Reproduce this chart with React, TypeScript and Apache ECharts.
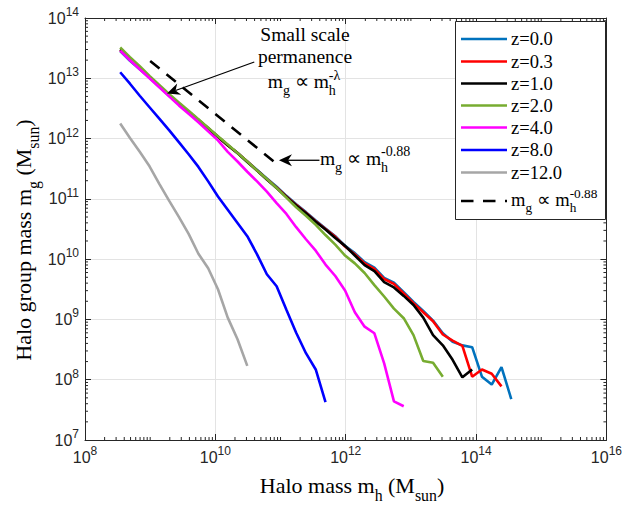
import React, { useEffect, useRef } from "react";
import * as echarts from "echarts";

// ---------- data (log10 values) ----------
const logMassGrid = [
  8.54, 8.69, 8.84, 8.99, 9.14, 9.29, 9.44, 9.59, 9.74, 9.89, 10.04, 10.19, 10.34, 10.49,
  10.64, 10.79, 10.94, 11.09, 11.24, 11.39, 11.54, 11.69, 11.84, 11.99, 12.14, 12.29, 12.44,
  12.59, 12.74, 12.89, 13.04, 13.19, 13.34, 13.49, 13.64, 13.79, 13.94, 14.09, 14.24, 14.39,
  14.54,
];

const seriesNames = ["z=0.0", "z=0.3", "z=1.0", "z=2.0", "z=4.0", "z=8.0", "z=12.0"];
const seriesColors = ["#0072BD", "#FF0000", "#000000", "#77AC30", "#FF00FF", "#0000FF", "#A6A6A6"];

const logMgZ00 = [
  13.45, 13.29, 13.15, 13.01, 12.86, 12.71, 12.57, 12.44, 12.31, 12.17, 12.03, 11.89, 11.76,
  11.62, 11.48, 11.34, 11.2, 11.05, 10.91, 10.78, 10.64, 10.51, 10.38, 10.22, 10.1, 9.95, 9.86,
  9.69, 9.61, 9.45, 9.29, 9.14, 8.98, 8.77, 8.63, 8.57, 8.54, 8.05, 7.92, 8.21, 7.68,
];
const logMgZ03 = [
  13.47, 13.32, 13.17, 13.02, 12.87, 12.72, 12.58, 12.44, 12.31, 12.17, 12.03, 11.89, 11.76,
  11.62, 11.47, 11.33, 11.19, 11.04, 10.9, 10.77, 10.63, 10.5, 10.37, 10.21, 10.08, 9.93, 9.84,
  9.67, 9.59, 9.43, 9.27, 9.12, 8.97, 8.75, 8.65, 8.56, 8.05, 8.17, 8.1, 7.89,
];
const logMgZ10 = [
  13.48, 13.33, 13.18, 13.02, 12.87, 12.72, 12.58, 12.44, 12.31, 12.17, 12.03, 11.89, 11.76,
  11.61, 11.47, 11.32, 11.18, 11.03, 10.89, 10.76, 10.62, 10.49, 10.35, 10.22, 10.06, 9.9, 9.8,
  9.62, 9.53, 9.39, 9.24, 9.03, 8.74, 8.57, 8.33, 8.04, 8.17,
];
const logMgZ20 = [
  13.51, 13.35, 13.2, 13.04, 12.89, 12.74, 12.6, 12.46, 12.32, 12.18, 12.04, 11.9, 11.76,
  11.62, 11.47, 11.33, 11.18, 11.02, 10.86, 10.72, 10.57, 10.4, 10.24, 10.06, 9.93, 9.77, 9.57,
  9.38, 9.18, 9.02, 8.74, 8.31, 8.28, 8.05,
];
const logMgZ40 = [
  13.46, 13.3, 13.15, 13.0, 12.85, 12.7, 12.55, 12.41, 12.27, 12.12, 11.97, 11.78, 11.62,
  11.45, 11.29, 11.12, 10.93, 10.75, 10.53, 10.33, 10.14, 9.91, 9.72, 9.48, 9.12, 8.88, 8.77,
  8.27, 7.64, 7.56,
];
const logMgZ80 = [
  13.1, 12.91, 12.71, 12.52, 12.33, 12.14, 11.94, 11.74, 11.53, 11.29, 11.04, 10.82, 10.6,
  10.38, 10.08, 9.75, 9.55, 9.16, 8.78, 8.44, 8.17, 7.63,
];
const logMgZ120 = [
  12.25, 12.01, 11.78, 11.54, 11.25, 10.97, 10.7, 10.42, 10.09, 9.85, 9.5, 9.03, 8.67, 8.23,
];

// reference power law m_g ∝ m_h^-0.88 (end points)
const refLogMh = [9.0, 10.99];
const refLogMg = [13.288, 11.537];

// axes (decades)
const xMajorExponents = [8, 10, 12, 14, 16];
const yMajorExponents = [7, 8, 9, 10, 11, 12, 13, 14];
const minorMultiples = [1, 2, 3, 4, 5, 6, 7, 8, 9];

// annotation anchors (log10 m_h, log10 m_g)
const arrow1Tip = [9.258, 12.746];
const arrow1Tail = [10.597, 13.27];
const arrow2Tip = [10.976, 11.64];
const arrow2Tail = [11.597, 11.64];

// ---------- styling helpers ----------
const SERIF = "'Liberation Serif', 'Times New Roman', Times, serif";
const SANS = "'Liberation Sans', Arial, Helvetica, sans-serif";
const INK = "#262626";
const SUB = 0.34;
const SUP = -0.45;
const SMALL = 0.72;

let measureCtx: CanvasRenderingContext2D | null = null;
function textWidth(t: string, size: number, family: string) {
  if (!measureCtx) measureCtx = document.createElement("canvas").getContext("2d");
  measureCtx!.font = `${size}px ${family}`;
  return measureCtx!.measureText(t).width;
}

type Seg = { t: string; s: number; dy?: number; stack?: boolean };

function mathText(
  segs: Seg[],
  x: number,
  baseline: number,
  align: "left" | "center",
  family = SERIF,
  color = "#000"
) {
  const placed: { seg: Seg; sx: number }[] = [];
  let cursor = 0;
  let prevX = 0;
  let prevW = 0;
  let prevStack = false;
  for (const seg of segs) {
    const w = textWidth(seg.t, seg.s, family);
    let sx: number;
    if (prevStack) {
      sx = prevX;
      cursor = prevX + Math.max(prevW, w);
    } else {
      sx = cursor;
      cursor += w;
    }
    placed.push({ seg, sx });
    prevX = sx;
    prevW = w;
    prevStack = !!seg.stack;
  }
  const off = align === "center" ? -cursor / 2 : 0;
  return placed.map(({ seg, sx }) => ({
    type: "text",
    x: x + off + sx,
    y: baseline + (seg.dy || 0) - 0.34 * seg.s,
    silent: true,
    z: 120,
    style: {
      text: seg.t,
      font: `${seg.s}px ${family}`,
      fill: color,
      textAlign: "left",
      align: "left",
      textVerticalAlign: "middle",
      verticalAlign: "middle",
    },
  }));
}

function propTo(base: number, sup: string): Seg[] {
  const s = SMALL * base;
  return [
    { t: "m", s: base },
    { t: "g", s, dy: SUB * base },
    { t: " \u221D m", s: base },
    { t: "h", s, dy: SUB * base, stack: true },
    { t: sup, s, dy: SUP * base },
  ];
}

function arrow(tail: number[], tip: number[]) {
  const dx = tip[0] - tail[0];
  const dy = tip[1] - tail[1];
  const len = Math.hypot(dx, dy);
  const ux = dx / len;
  const uy = dy / len;
  const nx = -uy;
  const ny = ux;
  const L = 13;
  const W = 6;
  const back = [tip[0] - ux * L, tip[1] - uy * L];
  const w1 = [back[0] + nx * W, back[1] + ny * W];
  const w2 = [back[0] - nx * W, back[1] - ny * W];
  const notch = [tip[0] - ux * L * 0.7, tip[1] - uy * L * 0.7];
  return [
    {
      type: "line",
      silent: true,
      z: 120,
      shape: { x1: tail[0], y1: tail[1], x2: notch[0], y2: notch[1] },
      style: { stroke: "#000", lineWidth: 1.3 },
    },
    {
      type: "polygon",
      silent: true,
      z: 120,
      shape: { points: [tip, w1, notch, w2] },
      style: { fill: "#000" },
    },
  ];
}

export default function App() {
  const ref = useRef<HTMLDivElement>(null);

  useEffect(() => {
    const prevMargin = document.body.style.margin;
    document.body.style.margin = "0";
    const chart = echarts.init(ref.current!, null, { renderer: "svg" });

    const curves = [logMgZ00, logMgZ03, logMgZ10, logMgZ20, logMgZ40, logMgZ80, logMgZ120];
    const xMin = xMajorExponents[0];
    const xMax = xMajorExponents[xMajorExponents.length - 1];
    const xInt = xMajorExponents[1] - xMajorExponents[0];
    const yMin = yMajorExponents[0];
    const yMax = yMajorExponents[yMajorExponents.length - 1];
    const yInt = yMajorExponents[1] - yMajorExponents[0];

    const series: any[] = curves.map((ys, i) => ({
      type: "line",
      name: seriesNames[i],
      data: ys.map((y, j) => [logMassGrid[j], y]),
      showSymbol: false,
      symbol: "none",
      silent: true,
      z: 2 + i,
      lineStyle: { color: seriesColors[i], width: 2.6 },
      itemStyle: { color: seriesColors[i] },
    }));

    series.push({
      type: "line",
      name: "ref",
      data: refLogMh.map((x, i) => [x, refLogMg[i]]),
      showSymbol: false,
      symbol: "none",
      silent: true,
      z: 12,
      lineStyle: { color: "#000", width: 2.6, type: [12, 9] },
    });

    series.push({
      type: "custom",
      silent: true,
      z: 20,
      data: [[xMin, yMin]],
      renderItem: (_params: any, api: any) => {
        const children: any[] = [];
        const bl = api.coord([xMin, yMin]);
        const tr = api.coord([xMax, yMax]);
        const tickStyle = { stroke: INK, lineWidth: 1 };
        for (let k = xMin; k < xMax; k++) {
          for (const m of minorMultiples) {
            if (m === 1 && (k - xMin) % xInt === 0) continue;
            const x = api.coord([k + Math.log10(m), yMin])[0];
            children.push({ type: "line", shape: { x1: x, y1: bl[1], x2: x, y2: bl[1] - 3 }, style: tickStyle });
            children.push({ type: "line", shape: { x1: x, y1: tr[1], x2: x, y2: tr[1] + 3 }, style: tickStyle });
          }
        }
        for (let k = yMin; k < yMax; k++) {
          for (const m of minorMultiples) {
            if (m === 1) continue;
            const y = api.coord([xMin, k + Math.log10(m)])[1];
            children.push({ type: "line", shape: { x1: bl[0], y1: y, x2: bl[0] + 3, y2: y }, style: tickStyle });
            children.push({ type: "line", shape: { x1: tr[0], y1: y, x2: tr[0] - 3, y2: y }, style: tickStyle });
          }
        }
        return { type: "group", children };
      },
    });

    const labelRich = {
      b: { fontSize: 16, fontFamily: SANS, color: INK, lineHeight: 16 },
      s: { fontSize: 12, fontFamily: SANS, color: INK, lineHeight: 12, padding: [0, 0, 12, 0] },
    };
    const fmt = (v: number) => `{b|10}{s|${Math.round(v)}}`;
    const axisLineStyle = { color: INK, width: 1 };
    const gridLine = { show: true, lineStyle: { color: "#e3e3e3", width: 1 } };

    const option: any = {
      animation: false,
      grid: { left: 85, top: 18, width: 528, height: 422 },
      xAxis: [
        {
          type: "value",
          min: xMin,
          max: xMax,
          interval: xInt,
          axisLine: { show: true, onZero: false, lineStyle: axisLineStyle },
          axisTick: { show: true, inside: true, length: 6, lineStyle: axisLineStyle },
          axisLabel: { show: true, margin: 9, formatter: fmt, rich: labelRich, fontFamily: SANS },
          splitLine: gridLine,
        },
        {
          type: "value",
          position: "top",
          min: xMin,
          max: xMax,
          interval: xInt,
          axisLine: { show: true, onZero: false, lineStyle: axisLineStyle },
          axisTick: { show: true, inside: true, length: 6, lineStyle: axisLineStyle },
          axisLabel: { show: false },
          splitLine: { show: false },
        },
      ],
      yAxis: [
        {
          type: "value",
          min: yMin,
          max: yMax,
          interval: yInt,
          axisLine: { show: true, onZero: false, lineStyle: axisLineStyle },
          axisTick: { show: true, inside: true, length: 6, lineStyle: axisLineStyle },
          axisLabel: { show: true, margin: 6, formatter: fmt, rich: labelRich, fontFamily: SANS },
          splitLine: gridLine,
        },
        {
          type: "value",
          position: "right",
          min: yMin,
          max: yMax,
          interval: yInt,
          axisLine: { show: true, onZero: false, lineStyle: axisLineStyle },
          axisTick: { show: true, inside: true, length: 6, lineStyle: axisLineStyle },
          axisLabel: { show: false },
          splitLine: { show: false },
        },
      ],
      series,
    };
    chart.setOption(option);

    const P = (p: number[]) => chart.convertToPixel({ gridIndex: 0 }, p) as number[];
    const els: any[] = [];

    // axis names
    const nameSize = 22;
    els.push(
      ...mathText(
        [
          { t: "Halo mass m", s: nameSize },
          { t: "h", s: SMALL * nameSize, dy: SUB * nameSize },
          { t: " (M", s: nameSize },
          { t: "sun", s: SMALL * nameSize, dy: SUB * nameSize },
          { t: ")", s: nameSize },
        ],
        352,
        493,
        "center"
      )
    );
    els.push({
      type: "group",
      x: 0,
      y: 240,
      rotation: Math.PI / 2,
      children: mathText(
        [
          { t: "Halo group mass m", s: nameSize },
          { t: "g", s: SMALL * nameSize, dy: SUB * nameSize },
          { t: " (M", s: nameSize },
          { t: "sun", s: SMALL * nameSize, dy: SUB * nameSize },
          { t: ")", s: nameSize },
        ],
        0,
        31,
        "center"
      ),
    });

    // annotations
    const aSize = 19.5;
    els.push(...mathText([{ t: "Small scale", s: aSize }], 305, 40.7, "center"));
    els.push(...mathText([{ t: "permanence", s: aSize }], 305, 62.7, "center"));
    els.push(...mathText(propTo(aSize, "-\u03BB"), 304, 88.3, "center"));
    els.push(...arrow(P(arrow1Tail), P(arrow1Tip)));
    els.push(...arrow(P(arrow2Tail), P(arrow2Tip)));
    const a2 = P(arrow2Tail);
    els.push(...mathText(propTo(aSize, "-0.88"), a2[0] + 0.5, 165, "left"));

    // legend
    const lgSize = 18.5;
    const rowY = [39, 61.5, 83.5, 105.5, 127.5, 150, 172.5, 201];
    els.push({
      type: "rect",
      silent: true,
      z: 110,
      shape: { x: 455.5, y: 21.5, width: 150, height: 198 },
      style: { fill: "#fff", stroke: INK, lineWidth: 1 },
    });
    seriesNames.forEach((name, i) => {
      const y = rowY[i];
      els.push({
        type: "line",
        silent: true,
        z: 115,
        shape: { x1: 461, y1: y, x2: 507, y2: y },
        style: { stroke: seriesColors[i], lineWidth: 2.6 },
      });
      els.push(...mathText([{ t: name, s: lgSize }], 511, y + 0.34 * lgSize, "left"));
    });
    const ly = rowY[7];
    els.push({
      type: "line",
      silent: true,
      z: 115,
      shape: { x1: 461, y1: ly, x2: 507, y2: ly },
      style: { stroke: "#000", lineWidth: 2.6, lineDash: [12.5, 9.5] },
    });
    els.push(...mathText(propTo(lgSize, "-0.88"), 511, ly + 5, "left"));

    chart.setOption({ graphic: { elements: els } });

    return () => {
      chart.dispose();
      document.body.style.margin = prevMargin;
    };
  }, []);

  return <div ref={ref} style={{ width: 625, height: 505 }} />;
}
